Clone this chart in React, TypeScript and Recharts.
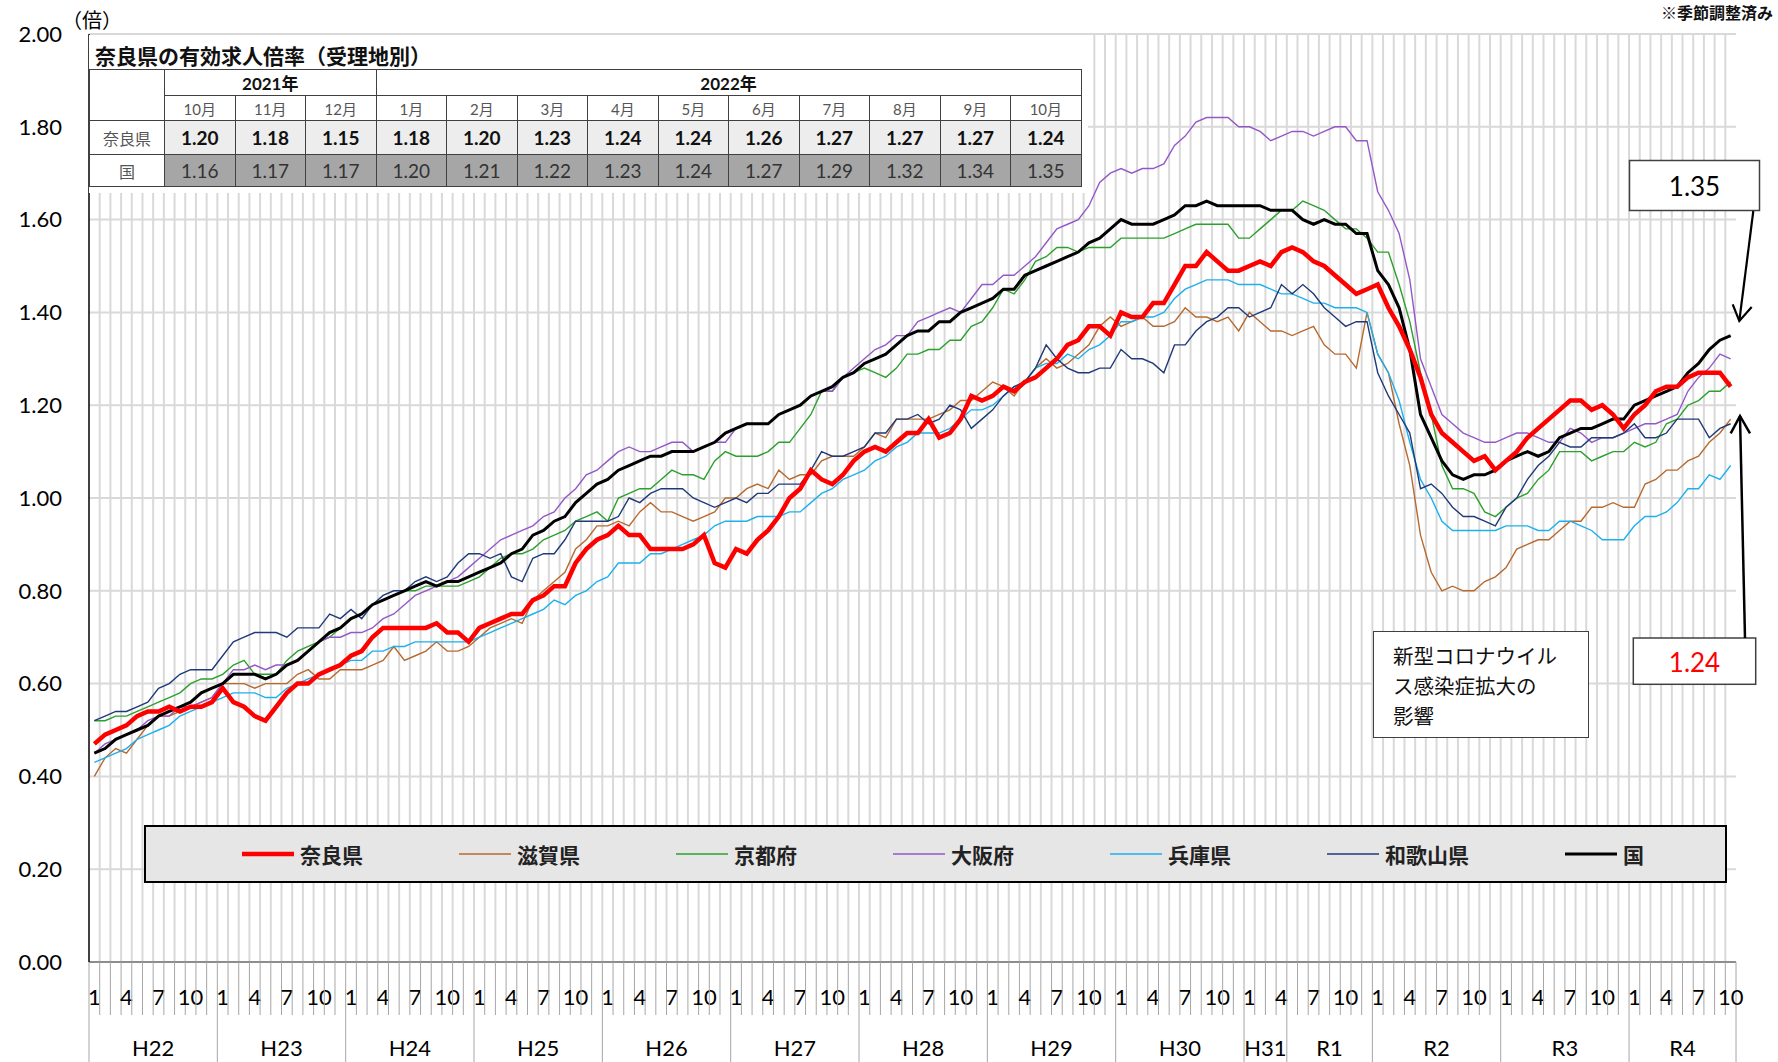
import React from "react";
import {
  CartesianGrid,
  Legend,
  Line,
  LineChart,
  ReferenceLine,
  XAxis,
  YAxis,
} from "recharts";

// monthly, 2010-01 (H22/1) .. 2022-10 (R4/10), seasonally adjusted
const nara = [
  0.47, 0.49, 0.5, 0.51, 0.53, 0.54, 0.54, 0.55, 0.54, 0.55,
  0.55, 0.56, 0.59, 0.56, 0.55, 0.53, 0.52, 0.55, 0.58, 0.6,
  0.6, 0.62, 0.63, 0.64, 0.66, 0.67, 0.7, 0.72, 0.72, 0.72,
  0.72, 0.72, 0.73, 0.71, 0.71, 0.69, 0.72, 0.73, 0.74, 0.75,
  0.75, 0.78, 0.79, 0.81, 0.81, 0.86, 0.89, 0.91, 0.92, 0.94,
  0.92, 0.92, 0.89, 0.89, 0.89, 0.89, 0.9, 0.92, 0.86, 0.85,
  0.89, 0.88, 0.91, 0.93, 0.96, 1.0, 1.02, 1.06, 1.04, 1.03,
  1.05, 1.08, 1.1, 1.11, 1.1, 1.12, 1.14, 1.14, 1.17, 1.13,
  1.14, 1.17, 1.22, 1.21, 1.22, 1.24, 1.23, 1.25, 1.26, 1.28,
  1.3, 1.33, 1.34, 1.37, 1.37, 1.35, 1.4, 1.39, 1.39, 1.42,
  1.42, 1.46, 1.5, 1.5, 1.53, 1.51, 1.49, 1.49, 1.5, 1.51,
  1.5, 1.53, 1.54, 1.53, 1.51, 1.5, 1.48, 1.46, 1.44, 1.45,
  1.46, 1.41, 1.37, 1.32, 1.26, 1.18, 1.14, 1.12, 1.1, 1.08,
  1.09, 1.06, 1.08, 1.1, 1.13, 1.15, 1.17, 1.19, 1.21, 1.21,
  1.19, 1.2, 1.18, 1.15, 1.18, 1.2, 1.23, 1.24, 1.24, 1.26,
  1.27, 1.27, 1.27, 1.24,
];

const shiga = [
  0.4, 0.44, 0.46, 0.45, 0.48, 0.51, 0.53, 0.53, 0.54, 0.55,
  0.56, 0.57, 0.6, 0.6, 0.6, 0.59, 0.6, 0.6, 0.6, 0.62,
  0.63, 0.61, 0.61, 0.63, 0.63, 0.63, 0.64, 0.65, 0.68, 0.65,
  0.66, 0.67, 0.69, 0.67, 0.67, 0.68, 0.7, 0.72, 0.73, 0.74,
  0.73, 0.78, 0.8, 0.82, 0.84, 0.89, 0.91, 0.94, 0.94, 0.95,
  0.94, 0.97, 0.99, 0.97, 0.97, 0.96, 0.95, 0.96, 0.97, 1.0,
  1.0, 1.02, 1.03, 1.02, 1.06, 1.04, 1.05, 1.05, 1.08, 1.09,
  1.09, 1.09, 1.11, 1.14, 1.13, 1.17, 1.17, 1.17, 1.17, 1.18,
  1.19, 1.21, 1.21, 1.23, 1.25, 1.24, 1.22, 1.25, 1.28, 1.3,
  1.28, 1.29, 1.31, 1.33, 1.37, 1.39, 1.37, 1.38, 1.39, 1.37,
  1.37, 1.38, 1.41, 1.39, 1.39, 1.38, 1.39, 1.36, 1.4, 1.38,
  1.36, 1.36, 1.35, 1.36, 1.37, 1.33, 1.31, 1.31, 1.28, 1.4,
  1.31, 1.27, 1.16, 1.07, 0.92, 0.84, 0.8, 0.81, 0.8, 0.8,
  0.82, 0.83, 0.85, 0.89, 0.9, 0.91, 0.91, 0.93, 0.95, 0.95,
  0.98, 0.98, 0.99, 0.98, 0.98, 1.03, 1.04, 1.06, 1.06, 1.08,
  1.09, 1.12, 1.14, 1.17,
];

const kyoto = [
  0.52, 0.52, 0.53, 0.53, 0.54, 0.55, 0.56, 0.57, 0.58, 0.6,
  0.61, 0.61, 0.62, 0.64, 0.65, 0.62, 0.62, 0.62, 0.65, 0.67,
  0.68, 0.69, 0.7, 0.72, 0.74, 0.75, 0.77, 0.78, 0.79, 0.8,
  0.8, 0.81, 0.81, 0.81, 0.81, 0.82, 0.83, 0.85, 0.87, 0.88,
  0.88, 0.89, 0.91, 0.92, 0.93, 0.95, 0.96, 0.97, 0.95, 1.0,
  1.01, 1.02, 1.02, 1.04, 1.06, 1.05, 1.05, 1.04, 1.08, 1.1,
  1.09, 1.09, 1.09, 1.1, 1.12, 1.12, 1.15, 1.18, 1.23, 1.23,
  1.26, 1.27, 1.28, 1.27, 1.26, 1.28, 1.31, 1.31, 1.32, 1.32,
  1.34, 1.34, 1.37, 1.38, 1.41, 1.45, 1.44, 1.47, 1.51, 1.52,
  1.54, 1.54, 1.53, 1.54, 1.54, 1.54, 1.56, 1.56, 1.56, 1.56,
  1.56, 1.57, 1.58, 1.59, 1.59, 1.59, 1.59, 1.56, 1.56, 1.58,
  1.6, 1.62, 1.62, 1.64, 1.63, 1.62, 1.6, 1.58, 1.58, 1.56,
  1.53, 1.53, 1.46, 1.38, 1.27, 1.18, 1.07, 1.02, 1.02, 1.01,
  0.97, 0.96, 0.98, 1.0, 1.01, 1.04, 1.06, 1.1, 1.1, 1.1,
  1.08, 1.09, 1.1, 1.1, 1.12, 1.11, 1.12, 1.16, 1.17, 1.2,
  1.21, 1.23, 1.23, 1.25,
];

const osaka = [
  0.45, 0.47, 0.48, 0.49, 0.5, 0.52, 0.53, 0.53, 0.55, 0.55,
  0.56, 0.57, 0.6, 0.63, 0.63, 0.64, 0.63, 0.64, 0.64, 0.65,
  0.67, 0.69, 0.7, 0.7, 0.71, 0.71, 0.72, 0.74, 0.75, 0.77,
  0.79, 0.8, 0.81, 0.82, 0.83, 0.85, 0.87, 0.89, 0.91, 0.92,
  0.93, 0.94, 0.96, 0.97, 1.0, 1.02, 1.05, 1.06, 1.08, 1.1,
  1.11, 1.1, 1.1, 1.11, 1.12, 1.12, 1.1, 1.11, 1.12, 1.12,
  1.15, 1.16, 1.16, 1.16, 1.18, 1.19, 1.2, 1.22, 1.23, 1.23,
  1.26, 1.28, 1.3, 1.32, 1.33, 1.35, 1.35, 1.38, 1.39, 1.4,
  1.41, 1.4, 1.43, 1.46, 1.46, 1.48, 1.48, 1.5, 1.52, 1.55,
  1.58, 1.59, 1.6, 1.63, 1.68, 1.7, 1.71, 1.7, 1.71, 1.71,
  1.72, 1.76, 1.78, 1.81, 1.82, 1.82, 1.82, 1.8, 1.8, 1.79,
  1.77, 1.78, 1.79, 1.79, 1.78, 1.79, 1.8, 1.8, 1.77, 1.77,
  1.66, 1.62, 1.57, 1.47, 1.3, 1.24, 1.18, 1.16, 1.14, 1.13,
  1.12, 1.12, 1.13, 1.14, 1.14, 1.13, 1.12, 1.12, 1.15, 1.14,
  1.12, 1.13, 1.13, 1.14, 1.15, 1.16, 1.16, 1.17, 1.18, 1.23,
  1.26, 1.28, 1.31, 1.3,
];

const hyogo = [
  0.43, 0.44, 0.45, 0.46, 0.48, 0.49, 0.5, 0.51, 0.53, 0.54,
  0.55, 0.56, 0.57, 0.58, 0.58, 0.58, 0.57, 0.57, 0.59, 0.6,
  0.61, 0.62, 0.63, 0.64, 0.65, 0.65, 0.67, 0.67, 0.68, 0.68,
  0.69, 0.69, 0.69, 0.69, 0.69, 0.69, 0.7, 0.71, 0.72, 0.73,
  0.74, 0.75, 0.76, 0.78, 0.77, 0.79, 0.8, 0.82, 0.83, 0.86,
  0.86, 0.86, 0.88, 0.88, 0.89, 0.9, 0.91, 0.92, 0.94, 0.95,
  0.95, 0.95, 0.96, 0.96, 0.96, 0.97, 0.97, 0.99, 1.01, 1.02,
  1.04, 1.05, 1.06, 1.08, 1.09, 1.11, 1.12, 1.14, 1.14, 1.14,
  1.15, 1.17, 1.19, 1.19, 1.2, 1.22, 1.24, 1.25, 1.28, 1.29,
  1.29, 1.31, 1.3, 1.32, 1.33, 1.35, 1.38, 1.38, 1.39, 1.39,
  1.4, 1.43, 1.45, 1.46, 1.47, 1.47, 1.47, 1.46, 1.46, 1.46,
  1.45, 1.44, 1.44, 1.43, 1.42, 1.42, 1.41, 1.41, 1.41, 1.4,
  1.31, 1.27, 1.21, 1.12, 1.04, 1.0, 0.95, 0.93, 0.93, 0.93,
  0.93, 0.93, 0.94, 0.94, 0.94, 0.93, 0.93, 0.95, 0.95, 0.94,
  0.93, 0.91, 0.91, 0.91, 0.94, 0.96, 0.96, 0.97, 0.99, 1.02,
  1.02, 1.05, 1.04, 1.07,
];

const wakayama = [
  0.52, 0.53, 0.54, 0.54, 0.55, 0.56, 0.59, 0.6, 0.62, 0.63,
  0.63, 0.63, 0.66, 0.69, 0.7, 0.71, 0.71, 0.71, 0.7, 0.72,
  0.72, 0.72, 0.75, 0.74, 0.76, 0.74, 0.77, 0.79, 0.8, 0.8,
  0.82, 0.83, 0.82, 0.83, 0.86, 0.88, 0.88, 0.87, 0.88, 0.83,
  0.82, 0.87, 0.88, 0.88, 0.91, 0.95, 0.95, 0.95, 0.95, 0.96,
  1.0, 0.99, 1.01, 1.02, 1.02, 1.02, 1.0, 0.99, 0.98, 0.99,
  1.0, 0.99, 1.01, 1.01, 1.03, 1.03, 1.03, 1.06, 1.1, 1.09,
  1.09, 1.1, 1.11, 1.14, 1.14, 1.17, 1.17, 1.18, 1.16, 1.17,
  1.2, 1.19, 1.15, 1.17, 1.19, 1.22, 1.24, 1.25, 1.28, 1.33,
  1.3, 1.28, 1.27, 1.27, 1.28, 1.28, 1.32, 1.3, 1.3, 1.29,
  1.27, 1.33, 1.33, 1.36, 1.38, 1.39, 1.41, 1.41, 1.39, 1.4,
  1.41, 1.46, 1.44, 1.46, 1.44, 1.41, 1.39, 1.37, 1.38, 1.38,
  1.27, 1.22, 1.18, 1.14, 1.02, 1.03, 1.01, 0.98, 0.96, 0.96,
  0.95, 0.94, 0.98, 1.0, 1.04, 1.07, 1.09, 1.12, 1.11, 1.11,
  1.13, 1.13, 1.13, 1.14, 1.16, 1.13, 1.13, 1.14, 1.17, 1.17,
  1.17, 1.13, 1.15, 1.16,
];

const national = [
  0.45, 0.46, 0.48, 0.49, 0.5, 0.51, 0.53, 0.54, 0.55, 0.56,
  0.58, 0.59, 0.6, 0.62, 0.62, 0.62, 0.61, 0.62, 0.64, 0.65,
  0.67, 0.69, 0.71, 0.72, 0.74, 0.75, 0.77, 0.78, 0.79, 0.8,
  0.81, 0.82, 0.81, 0.82, 0.82, 0.83, 0.84, 0.85, 0.86, 0.88,
  0.89, 0.92, 0.93, 0.95, 0.96, 0.99, 1.01, 1.03, 1.04, 1.06,
  1.07, 1.08, 1.09, 1.09, 1.1, 1.1, 1.1, 1.11, 1.12, 1.14,
  1.15, 1.16, 1.16, 1.16, 1.18, 1.19, 1.2, 1.22, 1.23, 1.24,
  1.26, 1.27, 1.29, 1.3, 1.31, 1.33, 1.35, 1.36, 1.36, 1.38,
  1.38, 1.4, 1.41, 1.42, 1.43, 1.45, 1.45, 1.48, 1.49, 1.5,
  1.51, 1.52, 1.53, 1.55, 1.56, 1.58, 1.6, 1.59, 1.59, 1.59,
  1.6, 1.61, 1.63, 1.63, 1.64, 1.63, 1.63, 1.63, 1.63, 1.63,
  1.62, 1.62, 1.62, 1.6, 1.59, 1.6, 1.59, 1.59, 1.57, 1.57,
  1.49, 1.46, 1.41, 1.32, 1.18, 1.13, 1.08, 1.05, 1.04, 1.05,
  1.05, 1.06, 1.08, 1.09, 1.1, 1.09, 1.1, 1.13, 1.14, 1.15,
  1.15, 1.16, 1.17, 1.17, 1.2, 1.21, 1.22, 1.23, 1.24, 1.27,
  1.29, 1.32, 1.34, 1.35,
];

// era labels and how many months each covers
const eras: [string, number][] = [
  ["H22", 12], ["H23", 12], ["H24", 12], ["H25", 12], ["H26", 12],
  ["H27", 12], ["H28", 12], ["H29", 12], ["H30", 12], ["H31", 4],
  ["R1", 8], ["R2", 12], ["R3", 12], ["R4", 10],
];

const yTicks = [0, 0.2, 0.4, 0.6, 0.8, 1.0, 1.2, 1.4, 1.6, 1.8, 2.0];
const labelledMonths = [1, 4, 7, 10];

// summary table: last 13 months
const tableStart = 141;
const tableYears = [
  { label: "2021年", span: 3 },
  { label: "2022年", span: 10 },
];

const series = [
  { key: "nara", name: "奈良県", color: "#ff0000", width: 4.5 },
  { key: "shiga", name: "滋賀県", color: "#b8692e", width: 1.4 },
  { key: "kyoto", name: "京都府", color: "#2ca02c", width: 1.4 },
  { key: "osaka", name: "大阪府", color: "#9457c8", width: 1.4 },
  { key: "hyogo", name: "兵庫県", color: "#1cb0ec", width: 1.4 },
  { key: "wakayama", name: "和歌山県", color: "#1f3a78", width: 1.4 },
  { key: "national", name: "国", color: "#000000", width: 3 },
];

const N = nara.length;
const data = nara.map((v, i) => ({
  i,
  nara: v,
  shiga: shiga[i],
  kyoto: kyoto[i],
  osaka: osaka[i],
  hyogo: hyogo[i],
  wakayama: wakayama[i],
  national: national[i],
}));

const eraStarts: number[] = [];
const eraCenters: number[] = [];
{
  let s = 0;
  for (const [, len] of eras) {
    eraStarts.push(s);
    eraCenters.push(s + len / 2 - 0.5);
    s += len;
  }
}
const monthTicks = data.map((d) => d.i);
const boundaries = data.slice(1).map((d) => d.i - 0.5);

const W = 1778;
const H = 1062;
const PLOT_LEFT = 89;
const PLOT_RIGHT = 1736;
const PLOT_BOTTOM = 962;
const STEP = (PLOT_RIGHT - PLOT_LEFT) / N;

const NUM_FONT = 'Lato, "Noto Sans CJK JP", sans-serif';
const JP_FONT = '"Noto Sans CJK JP", sans-serif';

function MonthTick(props: any) {
  const { x, payload } = props;
  const i: number = payload.value;
  const m = (i % 12) + 1;
  const left = x - STEP / 2;
  const long = eraStarts.includes(i);
  return (
    <g>
      <line
        x1={left}
        x2={left}
        y1={PLOT_BOTTOM}
        y2={long ? H : PLOT_BOTTOM + 53}
        stroke="#a6a6a6"
        strokeWidth={1}
      />
      {i === N - 1 && (
        <line
          x1={x + STEP / 2}
          x2={x + STEP / 2}
          y1={PLOT_BOTTOM}
          y2={H}
          stroke="#a6a6a6"
          strokeWidth={1}
        />
      )}
      {labelledMonths.includes(m) && (
        <text
          x={x}
          y={PLOT_BOTTOM + 43}
          textAnchor="middle"
          fontSize={22}
          fontFamily={NUM_FONT}
          fill="#000"
        >
          {m}
        </text>
      )}
    </g>
  );
}

function EraTick(props: any) {
  const { x, index } = props;
  return (
    <text
      x={x}
      y={H - 6}
      textAnchor="middle"
      fontSize={22}
      fontFamily={NUM_FONT}
      fill="#000"
    >
      {eras[index] ? eras[index][0] : ""}
    </text>
  );
}

const legendOffsets = [96, 313, 530, 747, 964, 1181, 1419];

function LegendBox() {
  return (
    <div
      style={{
        width: 1583,
        height: 58,
        boxSizing: "border-box",
        border: "2px solid #000",
        background: "#e7e6e6",
        position: "relative",
      }}
    >
      {series.map((s, k) => (
        <div
          key={s.key}
          style={{
            position: "absolute",
            left: legendOffsets[k],
            top: 0,
            height: 54,
            display: "flex",
            alignItems: "center",
          }}
        >
          <svg width={52} height={10}>
            <line x1={0} x2={52} y1={5} y2={5} stroke={s.color} strokeWidth={s.width} />
          </svg>
          <span
            style={{
              marginLeft: 6,
              fontSize: 21,
              fontWeight: 700,
              fontFamily: JP_FONT,
              color: "#222",
            }}
          >
            {s.name}
          </span>
        </div>
      ))}
    </div>
  );
}

const cell: React.CSSProperties = {
  border: "1.5px solid #404040",
  padding: 0,
  textAlign: "center",
  fontFamily: NUM_FONT,
};

function SummaryTable() {
  const idx = data.slice(tableStart).map((d) => d.i);
  return (
    <div
      style={{
        position: "absolute",
        left: 89,
        top: 35,
        width: 999,
        height: 158,
        background: "#fff",
      }}
    >
      <div
        style={{
          position: "absolute",
          left: 6,
          top: 5,
          fontSize: 21,
          fontWeight: 700,
          fontFamily: JP_FONT,
          lineHeight: "30px",
          color: "#111",
        }}
      >
        奈良県の有効求人倍率（受理地別）
      </div>
      <table
        style={{
          position: "absolute",
          left: 0,
          top: 34,
          borderCollapse: "collapse",
          tableLayout: "fixed",
          width: 992,
        }}
      >
        <colgroup>
          <col style={{ width: 75 }} />
          {idx.map((i) => (
            <col key={i} style={{ width: 70.5 }} />
          ))}
        </colgroup>
        <tbody>
          <tr style={{ height: 26 }}>
            <td rowSpan={2} style={cell} />
            {tableYears.map((y) => (
              <td
                key={y.label}
                colSpan={y.span}
                style={{ ...cell, fontWeight: 700, fontSize: 17, color: "#111" }}
              >
                {y.label}
              </td>
            ))}
          </tr>
          <tr style={{ height: 25 }}>
            {idx.map((i) => (
              <td key={i} style={{ ...cell, fontSize: 15, color: "#555" }}>
                {(i % 12) + 1}月
              </td>
            ))}
          </tr>
          <tr style={{ height: 34 }}>
            <td style={{ ...cell, fontSize: 16, color: "#555", fontFamily: JP_FONT }}>
              奈良県
            </td>
            {idx.map((i) => (
              <td
                key={i}
                style={{ ...cell, background: "#ededed", fontWeight: 700, fontSize: 19, color: "#111" }}
              >
                {nara[i].toFixed(2)}
              </td>
            ))}
          </tr>
          <tr style={{ height: 32 }}>
            <td style={{ ...cell, fontSize: 16, color: "#555", fontFamily: JP_FONT }}>国</td>
            {idx.map((i) => (
              <td
                key={i}
                style={{ ...cell, background: "#a6a6a6", fontSize: 19, color: "#333" }}
              >
                {national[i].toFixed(2)}
              </td>
            ))}
          </tr>
        </tbody>
      </table>
    </div>
  );
}

function Annotations() {
  return (
    <>
      <svg
        width={W}
        height={H}
        style={{ position: "absolute", left: 0, top: 0, pointerEvents: "none" }}
      >
        <text x={62} y={28} fontSize={20} fontFamily={JP_FONT} fill="#000">
          （倍）
        </text>
        <text
          x={1773}
          y={19}
          textAnchor="end"
          fontSize={16}
          fontWeight={700}
          fontFamily={JP_FONT}
          fill="#111"
        >
          ※季節調整済み
        </text>

        <rect x={1629.5} y={160.5} width={130} height={50} fill="#fff" stroke="#404040" strokeWidth={1.5} />
        <text x={1694.5} y={196} textAnchor="middle" fontSize={26} fontFamily={NUM_FONT} fill="#000">
          1.35
        </text>
        <g stroke="#000" strokeWidth={2.2} fill="none">
          <line x1={1753.3} y1={211} x2={1739.3} y2={321} />
          <polyline points="1732.7,304.3 1739.3,321 1751.7,307.1" />
        </g>

        <rect x={1633.3} y={638} width={122.4} height={46.3} fill="#fff" stroke="#404040" strokeWidth={1.5} />
        <text x={1694.5} y={672} textAnchor="middle" fontSize={26} fontFamily={NUM_FONT} fill="#ff0000">
          1.24
        </text>
        <g stroke="#000" strokeWidth={2.5} fill="none">
          <line x1={1745} y1={638} x2={1740} y2={416} />
          <polyline points="1730.7,433.4 1740,416 1750,433.4" />
        </g>
      </svg>
      <div
        style={{
          position: "absolute",
          left: 1373,
          top: 631,
          width: 216,
          height: 107,
          boxSizing: "border-box",
          border: "1.5px solid #404040",
          background: "#fff",
          padding: "8px 0 0 19px",
          fontSize: 20.5,
          lineHeight: "30px",
          fontFamily: JP_FONT,
          color: "#111",
        }}
      >
        新型コロナウイル
        <br />
        ス感染症拡大の
        <br />
        影響
      </div>
    </>
  );
}

export default function App() {
  return (
    <div
      style={{
        position: "absolute",
        left: 0,
        top: 0,
        width: W,
        height: H,
        background: "#fff",
        overflow: "hidden",
      }}
    >
      <LineChart
        width={W}
        height={H}
        data={data}
        margin={{ top: 34, right: W - PLOT_RIGHT, bottom: 0, left: 0 }}
      >
        <CartesianGrid vertical={false} stroke="#d9d9d9" strokeWidth={2} />
        {boundaries.map((b) => (
          <ReferenceLine key={b} x={b} stroke="#d9d9d9" strokeWidth={2} />
        ))}
        <XAxis
          dataKey="i"
          type="number"
          domain={[-0.5, N - 0.5]}
          ticks={monthTicks}
          interval={0}
          height={55}
          tickLine={false}
          axisLine={{ stroke: "#8c8c8c", strokeWidth: 2 }}
          tick={<MonthTick />}
        />
        <XAxis
          xAxisId="era"
          dataKey="i"
          type="number"
          domain={[-0.5, N - 0.5]}
          ticks={eraCenters}
          interval={0}
          height={45}
          tickLine={false}
          axisLine={false}
          tick={<EraTick />}
        />
        <YAxis
          domain={[0, 2]}
          ticks={yTicks}
          interval={0}
          width={PLOT_LEFT}
          tickLine={false}
          tickMargin={21}
          axisLine={{ stroke: "#000", strokeWidth: 1.5 }}
          tickFormatter={(v: number) => v.toFixed(2)}
          tick={{ fontSize: 22, fontFamily: NUM_FONT, fill: "#000" }}
        />
        <Legend
          layout="horizontal"
          verticalAlign="middle"
          align="center"
          content={() => <LegendBox />}
          wrapperStyle={{ left: 144, top: 825, width: 1583, height: 58 }}
        />
        {series
          .filter((s) => s.key !== "nara")
          .concat(series.filter((s) => s.key === "nara"))
          .map((s) => (
            <Line
              key={s.key}
              type="linear"
              dataKey={s.key}
              name={s.name}
              stroke={s.color}
              strokeWidth={s.width}
              dot={false}
              activeDot={false}
              isAnimationActive={false}
            />
          ))}
      </LineChart>
      <SummaryTable />
      <Annotations />
    </div>
  );
}
